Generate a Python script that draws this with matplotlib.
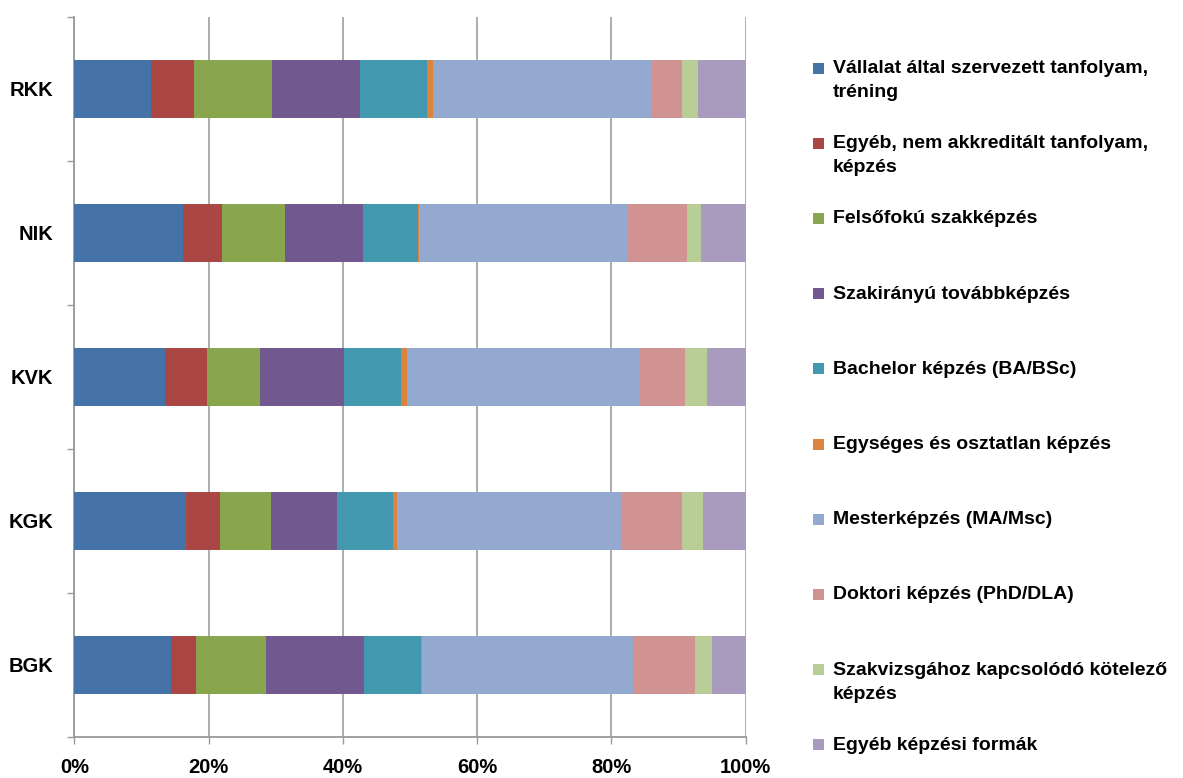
import numpy as np
import matplotlib
matplotlib.use('Agg')
import matplotlib.pyplot as plt
from matplotlib.patches import Rectangle

# faculties, bottom to top
faculties = ['BGK', 'KGK', 'KVK', 'NIK', 'RKK']

series_names = [
    'Vállalat által szervezett tanfolyam,\ntréning',
    'Egyéb, nem akkreditált tanfolyam,\nképzés',
    'Felsőfokú szakképzés',
    'Szakirányú továbbképzés',
    'Bachelor képzés (BA/BSc)',
    'Egységes és osztatlan képzés',
    'Mesterképzés (MA/Msc)',
    'Doktori képzés (PhD/DLA)',
    'Szakvizsgához kapcsolódó kötelező\nképzés',
    'Egyéb képzési formák',
]

# shares in %, one list per faculty (order as series_names)
bgk = [14.4, 3.8, 10.3, 14.7, 8.4, 0.2, 31.4, 9.3, 2.5, 5.0]
kgk = [16.7, 5.0, 7.6, 9.8, 8.4, 0.5, 33.5, 9.0, 3.1, 6.4]
kvk = [13.5, 6.3, 7.9, 12.4, 8.5, 0.9, 34.8, 6.6, 3.4, 5.7]
nik = [16.2, 5.8, 9.4, 11.6, 8.2, 0.2, 31.1, 8.7, 2.2, 6.6]
rkk = [11.4, 6.5, 11.6, 13.0, 10.1, 0.8, 32.5, 4.6, 2.4, 7.1]

colors = ['#4572A7', '#AA4643', '#89A54E', '#71588F', '#4198AF',
          '#DB843D', '#93A9CF', '#D19392', '#B9CD96', '#A99BBD']

plt.rcParams['font.family'] = ['Liberation Sans', 'DejaVu Sans']
plt.rcParams['font.weight'] = 'bold'

data = np.array([bgk, kgk, kvk, nik, rkk])
data = data / data.sum(axis=1, keepdims=True) * 100

W, H = 1183, 778
fig = plt.figure(figsize=(W / 100, H / 100), dpi=100)
ax = fig.add_axes([74.3 / W, 1 - 737 / H, (745.7 - 74.3) / W, (737 - 16.7) / H])

y = np.arange(len(faculties))
left = np.zeros(len(faculties))
for j in range(len(series_names)):
    ax.barh(y, data[:, j], left=left, height=0.4, color=colors[j], zorder=3)
    left += data[:, j]

ax.set_xlim(0, 100)
ax.set_ylim(-0.5, len(faculties) - 0.5)
ax.set_xticks(np.arange(0, 101, 20))
ax.set_xticklabels([f'{v}%' for v in range(0, 101, 20)], fontsize=14.5, fontweight='bold')
ax.set_yticks(y)
ax.set_yticklabels(faculties, fontsize=14.5, fontweight='bold')
ax.set_yticks(np.arange(-0.5, len(faculties)), minor=True)

ax.grid(axis='x', color='#a6a6a6', linewidth=1.3, zorder=0)
ax.tick_params(axis='y', which='major', length=0, pad=15)
ax.tick_params(axis='y', which='minor', length=5, color='#999999', width=1)
ax.tick_params(axis='x', which='major', length=5, color='#999999', width=1, pad=10)
for s in ['top', 'right']:
    ax.spines[s].set_visible(False)
for s in ['left', 'bottom']:
    ax.spines[s].set_color('#999999')
    ax.spines[s].set_linewidth(1.3)

# legend drawn by hand so each entry keeps even spacing
for i, (name, c) in enumerate(zip(series_names, colors)):
    yc = 68 + i * 75.2
    fig.add_artist(Rectangle((813 / W, 1 - (yc + 5.5) / H), 11 / W, 11 / H,
                             facecolor=c, edgecolor='none', transform=fig.transFigure))
    fig.text(833 / W, 1 - (yc - 8) / H, name, fontsize=14, fontweight='bold',
             va='top', ha='left', linespacing=1.55)

fig.savefig('out.png', dpi=100)
